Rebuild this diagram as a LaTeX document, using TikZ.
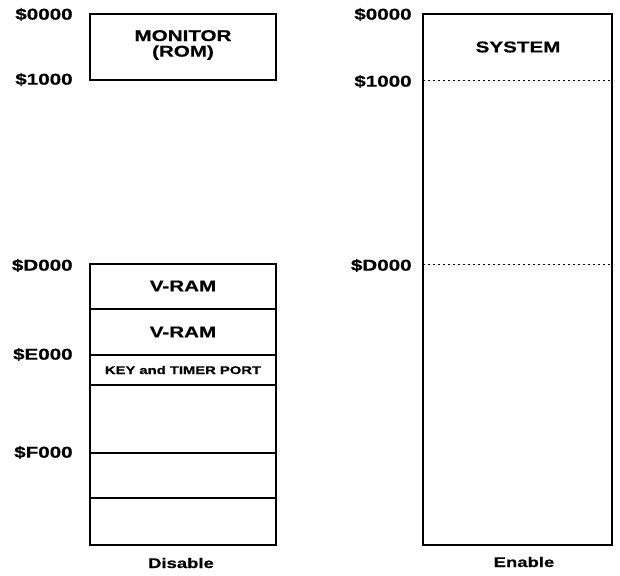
\documentclass[tikz,border=0pt]{standalone}
\usepackage{fontspec}
\setmainfont{Liberation Sans}
\newfontfamily\mapfont[FakeStretch=1.32,FakeBold=0.6]{Liberation Sans Bold}
\usetikzlibrary{positioning}

\begin{document}
\begin{tikzpicture}[
  x=0.5pt, y=-0.5pt,
  addr/.style={anchor=east, inner sep=0pt, text height=5.6pt, text depth=0pt, font=\mapfont\fontsize{7.8}{8}\selectfont},
  blocklabel/.style={align=center, inner sep=0pt, font=\mapfont\fontsize{7.8}{7.8}\selectfont},
  portlabel/.style={inner sep=0pt, font=\mapfont\fontsize{5.6}{6}\selectfont},
  caption/.style={inner sep=0pt, font=\mapfont\fontsize{7}{7}\selectfont},
  border/.style={line width=1pt},
  split/.style={line width=0.45pt, dash pattern=on 1pt off 1.5pt}
]
  \useasboundingbox (0,0) rectangle (620,575);

  % Disable side
  \draw[border] (90,14) rectangle (276,80);
  \draw[border] (90,264) rectangle (276,545);
  \foreach \y in {309,355,385,453,498}
    \draw[border] (90,\y) -- (276,\y);

  \node[blocklabel] (mon)  at (183,45)  {MONITOR\\(ROM)};
  \node[blocklabel] (vram1) at (183,286) {V-RAM};
  \node[blocklabel] (vram2) at (183,332) {V-RAM};
  \node[portlabel]  (port) at (183,370) {KEY and TIMER PORT};
  \node[caption]    (dis)  at (181,563) {Disable};

  \node[addr] (a0)  at (73,14)  {\$0000};
  \node[addr] (a1)  at (73,79)  {\$1000};
  \node[addr] (ad)  at (73,265) {\$D000};
  \node[addr] (ae)  at (73,354) {\$E000};
  \node[addr] (af)  at (73,452) {\$F000};

  % Enable side
  \draw[border] (423,14) rectangle (612,545);
  \draw[split] (423,80) -- (612,80);
  \draw[split] (423,264) -- (612,264);

  \node[blocklabel] (sys) at (518,47)  {SYSTEM};
  \node[caption]    (en)  at (524,562) {Enable};

  \node[addr] (b0) at (412,14)  {\$0000};
  \node[addr] (b1) at (412,81)  {\$1000};
  \node[addr] (bd) at (412,265) {\$D000};
\end{tikzpicture}
\end{document}
